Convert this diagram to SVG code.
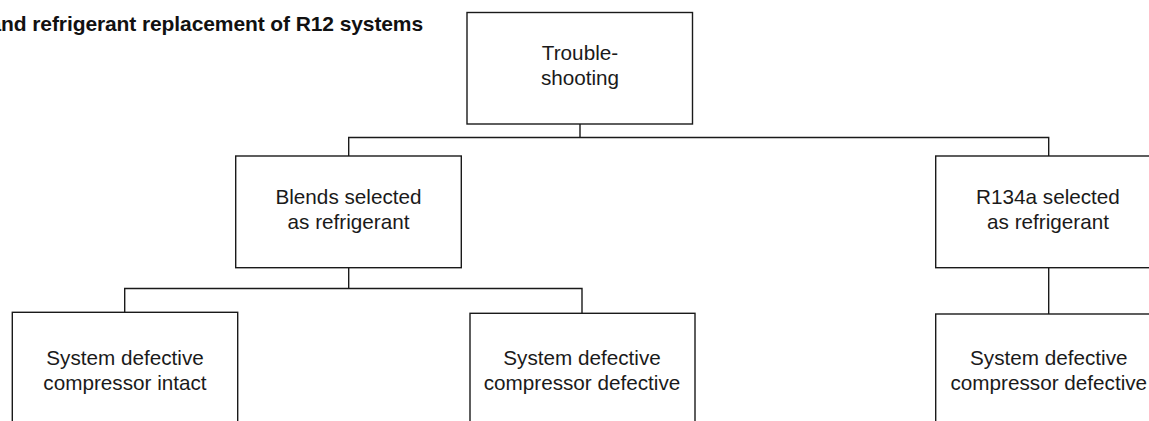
<svg xmlns="http://www.w3.org/2000/svg" width="1149" height="421" viewBox="0 0 1149 421">
<style>
.box{fill:#fff;stroke:#1a1a1a;stroke-width:1.4}
.con{fill:none;stroke:#1a1a1a;stroke-width:1.4}
.lbl{font-family:"Liberation Sans",Arial,sans-serif;font-size:20.7px;fill:#1a1a1a;text-anchor:middle}
.title{font-family:"Liberation Sans",Arial,sans-serif;font-size:21px;font-weight:bold;fill:#111;text-anchor:end;letter-spacing:-0.1px}
</style>
<rect width="1149" height="421" fill="#fff"/>
<text class="title" x="423" y="30.5">and refrigerant replacement of R12 systems</text>
<g id="connectors">
<path class="con" d="M580,124 V137.5 M348.7,156 V137.5 H1048.7 V156"/>
<path class="con" d="M348.7,268 V288.5 M124.7,312.5 V288.5 H582 V313.5"/>
<path class="con" d="M1048.7,268 V314"/>
</g>
<g id="n-troubleshooting">
<rect class="box" x="467" y="12.5" width="225.5" height="111.5"/>
<text class="lbl" x="580" y="60">Trouble-</text>
<text class="lbl" x="580" y="85">shooting</text>
</g>
<g id="n-blends">
<rect class="box" x="235.7" y="156" width="225.6" height="111.7"/>
<text class="lbl" x="348.5" y="203.5">Blends selected</text>
<text class="lbl" x="348.5" y="229">as refrigerant</text>
</g>
<g id="n-r134a">
<rect class="box" x="935.7" y="156" width="226" height="111.7"/>
<text class="lbl" x="1048" y="203.5">R134a selected</text>
<text class="lbl" x="1048" y="229">as refrigerant</text>
</g>
<g id="n-intact">
<rect class="box" x="12.3" y="312.3" width="225.4" height="130"/>
<text class="lbl" x="125" y="365">System defective</text>
<text class="lbl" x="125" y="389.5">compressor intact</text>
</g>
<g id="n-defective-blends">
<rect class="box" x="470" y="313.3" width="225" height="130"/>
<text class="lbl" x="582" y="365">System defective</text>
<text class="lbl" x="582" y="389.5">compressor defective</text>
</g>
<g id="n-defective-r134a">
<rect class="box" x="935.7" y="314" width="226" height="130"/>
<text class="lbl" x="1048.8" y="365">System defective</text>
<text class="lbl" x="1048.8" y="389.5">compressor defective</text>
</g>
</svg>
